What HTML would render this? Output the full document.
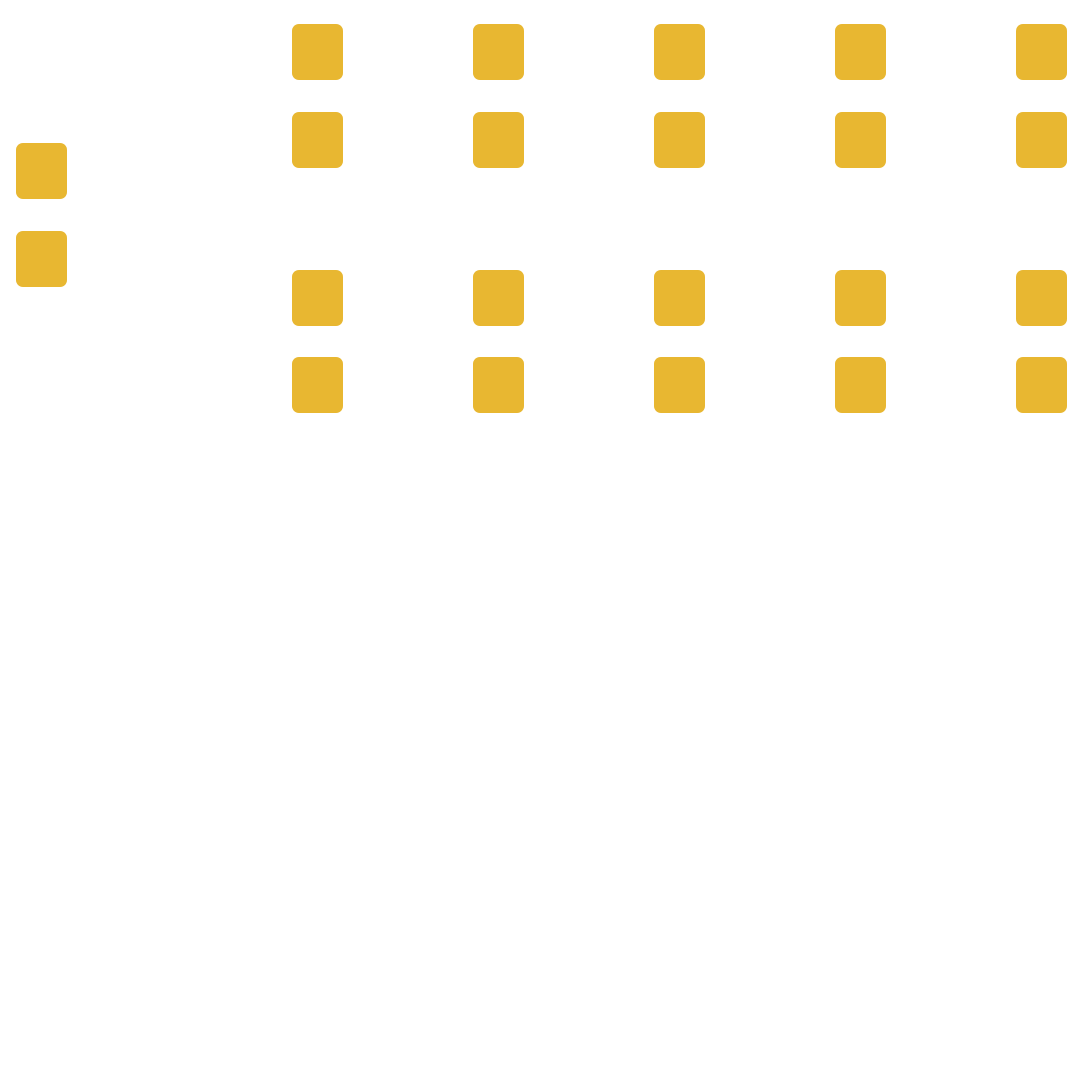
<!DOCTYPE html>
<html><head><meta charset="utf-8"><style>
html,body{margin:0;padding:0;background:#fff;width:1080px;height:1080px;overflow:hidden}
.b{position:absolute;width:51px;height:56px;background:#E8B731;border-radius:7px}
</style></head><body>
<div class="b" style="left:16px;top:143px"></div>
<div class="b" style="left:16px;top:231px"></div>
<div class="b" style="left:292px;top:24px"></div><div class="b" style="left:473px;top:24px"></div><div class="b" style="left:654px;top:24px"></div><div class="b" style="left:835px;top:24px"></div><div class="b" style="left:1016px;top:24px"></div>
<div class="b" style="left:292px;top:112px"></div><div class="b" style="left:473px;top:112px"></div><div class="b" style="left:654px;top:112px"></div><div class="b" style="left:835px;top:112px"></div><div class="b" style="left:1016px;top:112px"></div>
<div class="b" style="left:292px;top:270px"></div><div class="b" style="left:473px;top:270px"></div><div class="b" style="left:654px;top:270px"></div><div class="b" style="left:835px;top:270px"></div><div class="b" style="left:1016px;top:270px"></div>
<div class="b" style="left:292px;top:357px"></div><div class="b" style="left:473px;top:357px"></div><div class="b" style="left:654px;top:357px"></div><div class="b" style="left:835px;top:357px"></div><div class="b" style="left:1016px;top:357px"></div>
</body></html>
